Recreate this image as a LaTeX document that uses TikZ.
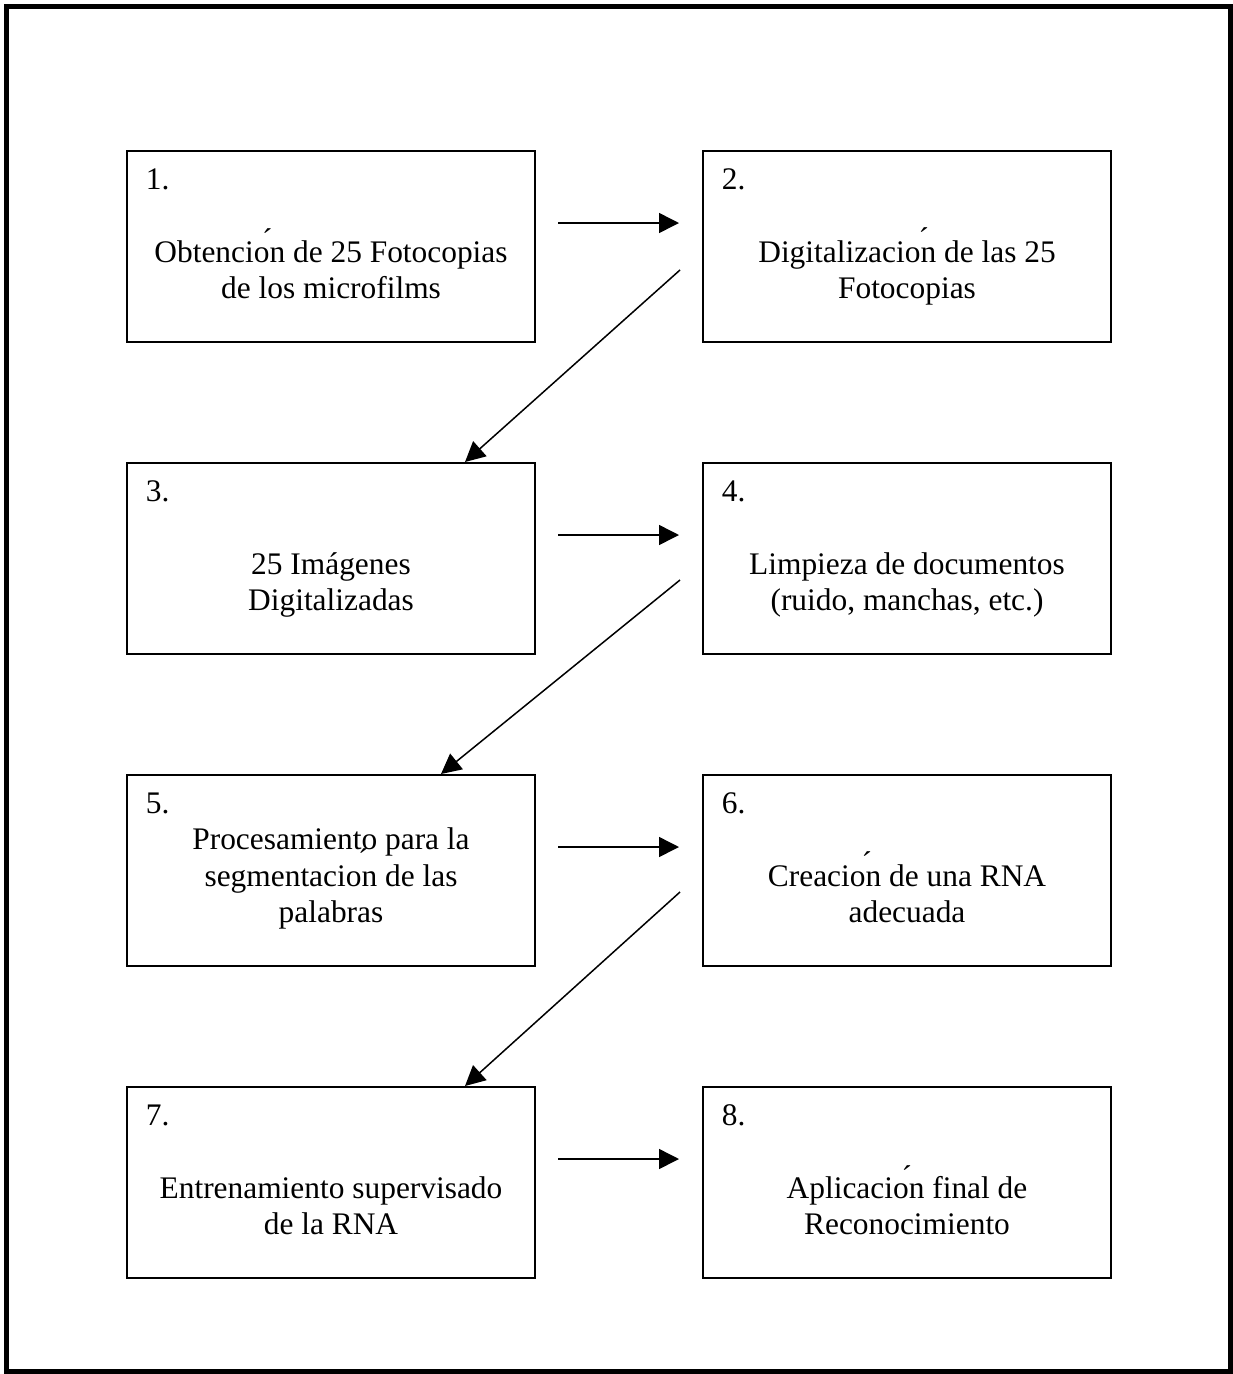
\documentclass[tikz,border=0pt]{standalone}
\usepackage{fontspec}
\setmainfont{Liberation Serif}
\usetikzlibrary{arrows.meta,calc}
\begin{document}
\begin{tikzpicture}[x=1pt,y=-1pt,
  box/.style={draw,line width=1.6pt,minimum width=408pt,minimum height=191pt,inner sep=0pt},
  txt/.style={anchor=base,inner sep=0pt,font=\fontsize{31.4}{36.5}\selectfont},
  lbl/.style={anchor=base west,inner sep=0pt,font=\fontsize{31.4}{36.5}\selectfont},
  acc/.style={anchor=base west,inner sep=0pt,font=\fontsize{31.4}{36.5}\selectfont},
  arr/.style={line width=1.5pt,-{Triangle[length=20pt,width=20pt]}}
]
\useasboundingbox (0,0) rectangle (1233,1374);
\draw[line width=5pt] (6,6) rectangle (1230,1371);

% boxes
\node[box] (b1) at (331,246.5) {};
\node[box] (b2) at (907,246.5) {};
\node[box] (b3) at (331,558.5) {};
\node[box] (b4) at (907,558.5) {};
\node[box] (b5) at (331,870.5) {};
\node[box] (b6) at (907,870.5) {};
\node[box] (b7) at (331,1182.5) {};
\node[box] (b8) at (907,1182.5) {};

% labels
\node[lbl] (n1) at ($(b1.north west)+(19.5,39)$) {1.};
\node[lbl] (n2) at ($(b2.north west)+(19.5,39)$) {2.};
\node[lbl] (n3) at ($(b3.north west)+(19.5,39)$) {3.};
\node[lbl] (n4) at ($(b4.north west)+(19.5,39)$) {4.};
\node[lbl] (n5) at ($(b5.north west)+(19.5,39)$) {5.};
\node[lbl] (n6) at ($(b6.north west)+(19.5,39)$) {6.};
\node[lbl] (n7) at ($(b7.north west)+(19.5,39)$) {7.};
\node[lbl] (n8) at ($(b8.north west)+(19.5,39)$) {8.};

% texts
\node[txt] (t1a) at ($(b1.north)+(0,112)$) {Obtencion de 25 Fotocopias};
\node[txt] (t1b) at ($(b1.north)+(0,148.5)$) {de los microfilms};
\node[txt] (t2a) at ($(b2.north)+(0,112)$) {Digitalizacion de las 25};
\node[txt] (t2b) at ($(b2.north)+(0,148.5)$) {Fotocopias};
\node[txt] (t3a) at ($(b3.north)+(0,112)$) {25 Imágenes};
\node[txt] (t3b) at ($(b3.north)+(0,148.5)$) {Digitalizadas};
\node[txt] (t4a) at ($(b4.north)+(0,112)$) {Limpieza de documentos};
\node[txt] (t4b) at ($(b4.north)+(0,148.5)$) {(ruido, manchas, etc.)};
\node[txt] (t5a) at ($(b5.north)+(0,75.5)$) {Procesamiento para la};
\node[txt] (t5b) at ($(b5.north)+(0,112)$) {segmentacion de las};
\node[txt] (t5c) at ($(b5.north)+(0,148.5)$) {palabras};
\node[txt] (t6a) at ($(b6.north)+(0,112)$) {Creacion de una RNA};
\node[txt] (t6b) at ($(b6.north)+(0,148.5)$) {adecuada};
\node[txt] (t7a) at ($(b7.north)+(0,112)$) {Entrenamiento supervisado};
\node[txt] (t7b) at ($(b7.north)+(0,148.5)$) {de la RNA};
\node[txt] (t8a) at ($(b8.north)+(0,112)$) {Aplicacion final de};
\node[txt] (t8b) at ($(b8.north)+(0,148.5)$) {Reconocimiento};

% floating accents
\node[acc] (a1) at (262,250) {´};
\node[acc] (a2) at (918.5,249.6) {´};
\node[acc] (a5) at (358,870) {´};
\node[acc] (a6) at (861.5,873.6) {´};
\node[acc] (a8) at (901.5,1187.6) {´};

% connector end points
\coordinate (h1s) at (558,223);  \coordinate (h1e) at (679,223);
\coordinate (h2s) at (558,535);  \coordinate (h2e) at (679,535);
\coordinate (h3s) at (558,847);  \coordinate (h3e) at (679,847);
\coordinate (h4s) at (558,1159); \coordinate (h4e) at (679,1159);
\coordinate (d1s) at (680,270);  \coordinate (d1e) at (465,462);
\coordinate (d2s) at (680,580);  \coordinate (d2e) at (441,774);
\coordinate (d3s) at (680,892);  \coordinate (d3e) at (465,1086);

\draw[arr] (h1s) -- (h1e);
\draw[arr] (h2s) -- (h2e);
\draw[arr] (h3s) -- (h3e);
\draw[arr] (h4s) -- (h4e);
\draw[arr] (d1s) -- (d1e);
\draw[arr] (d2s) -- (d2e);
\draw[arr] (d3s) -- (d3e);
\end{tikzpicture}
\end{document}
